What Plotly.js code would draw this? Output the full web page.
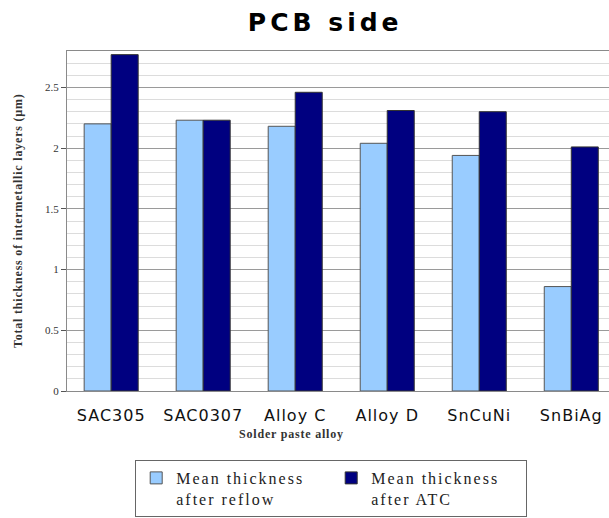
<!DOCTYPE html>
<html>
<head>
<meta charset="utf-8">
<script src="https://cdn.plot.ly/plotly-3.0.1.min.js"></script>
<style>
  html, body { margin: 0; padding: 0; background: #fff; }
  .xtick text { letter-spacing: 1px; }
  .legendtext { letter-spacing: 2px; }
  .gtitle { letter-spacing: 4px; }
  .annotation-text { letter-spacing: 0.8px; }
</style>
</head>
<body>
<div id="chart" style="width:609px;height:518px;"></div>
<script>
const categories = ["SAC305", "SAC0307", "Alloy C", "Alloy D", "SnCuNi", "SnBiAg"];
const afterReflow = [2.20, 2.23, 2.18, 2.04, 1.94, 0.86];
const afterATC = [2.77, 2.23, 2.46, 2.31, 2.30, 2.01];
const seriesNames = ["Mean thickness<br>after reflow", "Mean thickness<br>after ATC"];
const yTickVals = [0, 0.5, 1, 1.5, 2, 2.5];
const yTickText = ["0", "0.5", "1", "1.5", "2", "2.5"];

const traces = [
  {
    type: "bar", x: categories, y: afterReflow, name: seriesNames[0],
    marker: { color: "#99CCFF", line: { color: "#555555", width: 1 } }
  },
  {
    type: "bar", x: categories, y: afterATC, name: seriesNames[1],
    marker: { color: "#000080", line: { color: "#333333", width: 1 } }
  }
];

const layout = {
  width: 609, height: 518,
  margin: { l: 67, r: 0, t: 51, b: 127 },
  paper_bgcolor: "#ffffff", plot_bgcolor: "#ffffff",
  barmode: "group", bargap: 0.413, bargroupgap: 0,
  title: {
    text: "<b>PCB side</b>",
    font: { family: "DejaVu Sans", size: 25, color: "#000000" },
    xref: "container", x: 0.534, xanchor: "center",
    yref: "container", y: 0.957, yanchor: "middle"
  },
  xaxis: {
    type: "category",
    range: [-0.48, 5.41],
    showline: true, mirror: true, linecolor: "#8a8a8a", linewidth: 1,
    showgrid: false, ticks: "",
    tickfont: { family: "DejaVu Sans", size: 16, color: "#111111" },
    ticklabelstandoff: 10
  },
  yaxis: {
    range: [0, 2.8],
    tickvals: yTickVals, ticktext: yTickText,
    showline: true, linecolor: "#8a8a8a", linewidth: 1,
    ticks: "outside", ticklen: 5, tickcolor: "#555555",
    showgrid: true, gridcolor: "#9a9a9a", gridwidth: 1,
    zeroline: false,
    minor: { dtick: 0.1, showgrid: true, gridcolor: "#dcdcdc", gridwidth: 1, ticks: "" },
    tickfont: { family: "Liberation Serif", size: 11, color: "#333333" }
  },
  showlegend: true,
  legend: {
    orientation: "h",
    xref: "container", yref: "container",
    x: 0.222, xanchor: "left",
    y: 0.112, yanchor: "top",
    bordercolor: "#666666", borderwidth: 1,
    bgcolor: "#ffffff",
    font: { family: "Liberation Serif", size: 16, color: "#222222" },
    valign: "top",
    entrywidth: 150,
    traceorder: "normal"
  },
  annotations: [
    {
      text: "<b>Total thickness of intermetallic layers (µm)</b>",
      xref: "paper", yref: "paper", x: -0.0904, y: 0.5,
      xanchor: "center", yanchor: "middle", textangle: -90, showarrow: false,
      font: { family: "Liberation Serif", size: 12, color: "#333333" }
    },
    {
      text: "<b>Solder paste alloy</b>",
      xref: "paper", yref: "paper", x: 0.415, y: -0.126,
      xanchor: "center", yanchor: "middle", showarrow: false,
      font: { family: "Liberation Serif", size: 12, color: "#333333" }
    }
  ]
};

Plotly.newPlot("chart", traces, layout, { displayModeBar: false, staticPlot: true });
</script>
</body>
</html>
